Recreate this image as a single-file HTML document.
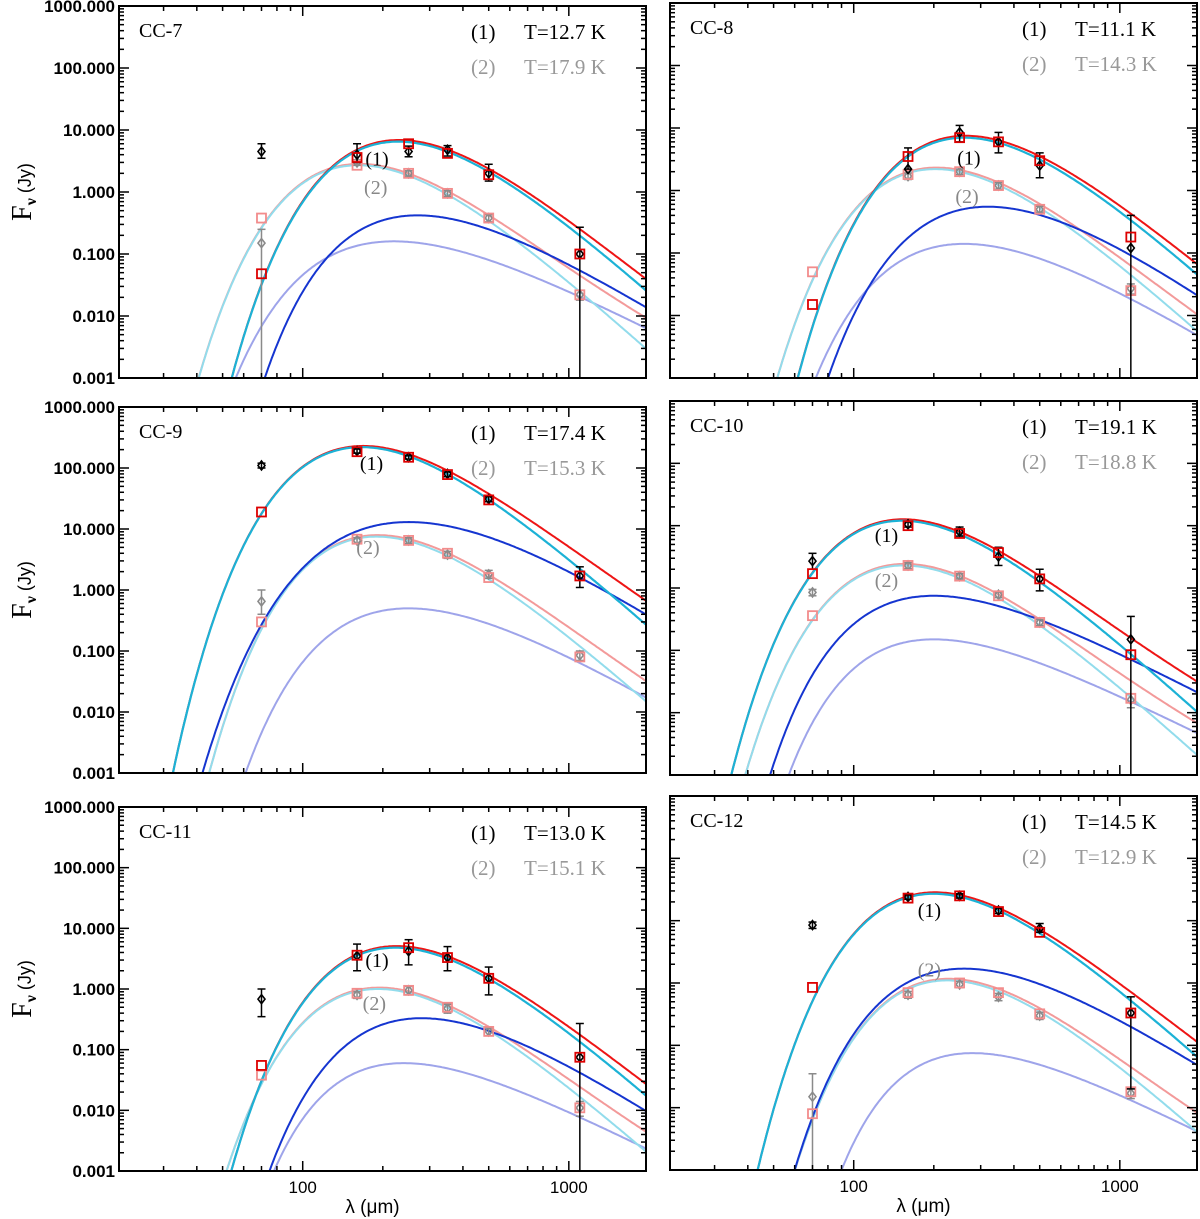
<!DOCTYPE html>
<html><head><meta charset="utf-8">
<style>
html,body{margin:0;padding:0;background:#fff;overflow:hidden;width:1200px;height:1219px;}
svg{display:block;overflow:hidden;}
</style></head>
<body>
<svg id="chart" xmlns="http://www.w3.org/2000/svg" width="1200" height="1219" viewBox="0 0 1200 1219"></svg>
<script>
// ---- data ----
const panelNames = ["CC-7","CC-8","CC-9","CC-10","CC-11","CC-12"];
const temp1Labels = ["T=12.7 K","T=11.1 K","T=17.4 K","T=19.1 K","T=13.0 K","T=14.5 K"];
const temp2Labels = ["T=17.9 K","T=14.3 K","T=15.3 K","T=18.8 K","T=15.1 K","T=12.9 K"];
const cyanT = [12.7,11.1,17.4,19.1,13.0,14.5];
const cyanPeak = [6.5,7,220,12,4.8,27];
const cyan2T = [17.9,14.3,15.3,18.8,15.1,12.9];
const cyan2Peak = [2.7,2.2,7.5,2.3,1.0,1.1];
const blueLam = [270,320,250,200,280,260];
const bluePeak = [0.42,0.55,13,0.75,0.33,1.7];
const blueStart = [72,80,42,48.5,75,60];
const blueAt2000 = [0.013,0.02,0.37,0.02,0.009,0.045];
const lavLam = [220,260,250,200,240,280];
const lavPeak = [0.16,0.14,0.5,0.15,0.06,0.075];
const lavStart = [56,72,61,57,78,90];
const lavAt2000 = [0.006,0.0045,0.016,0.0045,0.0022,0.004];
const wavelengths = [70,160,250,350,500,1100];
const blackFlux = [
 [4.5,4.0,4.5,4.8,2.0,0.1],
 [null,2.2,8.5,6,2.5,0.12],
 [110,190,150,80,31,1.7],
 [2.7,10.5,8,3.2,1.4,0.15],
 [0.68,3.5,4.2,3.3,1.5,0.075],
 [8.5,24,25,14.5,7.5,0.33]];
const blackLo = [
 [3.5,3,3.7,3.8,1.5,0.001],
 [null,2.2,6,4,1.6,0.001],
 [100,175,140,72,28,1.1],
 [2,9.5,6.8,2.3,0.9,0.001],
 [0.35,2,2.5,2,0.8,0.001],
 [7.5,22,23,13,6.5,0.02]];
const blackHi = [
 [6,6,5.5,5.6,2.8,0.27],
 [null,4.8,11,8.5,4,0.4],
 [120,205,160,86,34,2.4],
 [3.6,11.5,9.5,4.5,2,0.35],
 [1.0,5.5,6.5,5,2.3,0.27],
 [9.5,26,27,16,9,0.6]];
const redFlux = [
 [0.048,3.6,6.0,4.2,1.9,0.1],
 [0.015,3.5,7,6,3,0.18],
 [19,185,150,78,30,1.7],
 [1.7,10,7.5,3.7,1.4,0.085],
 [0.055,3.6,4.8,3.3,1.5,0.075],
 [0.85,23,25,14,6.5,0.33]];
const grayFlux = [
 [0.15,3.0,2.0,0.95,0.38,0.022],
 [null,1.7,2.0,1.2,0.5,0.027],
 [0.65,6.5,6.5,3.8,1.8,0.085],
 [0.85,2.3,1.55,0.78,0.28,0.016],
 [null,0.8,0.95,0.48,0.2,0.011],
 [0.015,0.65,0.95,0.6,0.3,0.017]];
const grayLo = [
 [0.001,2.7,1.8,0.85,0.33,0.018],
 [null,1.5,1.8,1.05,0.45,0.022],
 [0.4,5.8,5.8,3.3,1.55,0.07],
 [0.75,2.05,1.4,0.7,0.25,0.012],
 [null,0.7,0.8,0.4,0.17,0.008],
 [0.001,0.57,0.84,0.52,0.26,0.014]];
const grayHi = [
 [0.25,3.3,2.2,1.05,0.43,0.026],
 [null,1.9,2.2,1.35,0.56,0.032],
 [1.0,7.2,7.2,4.3,2.1,0.1],
 [0.95,2.55,1.7,0.86,0.31,0.02],
 [null,0.9,1.1,0.56,0.23,0.014],
 [0.035,0.73,1.06,0.68,0.34,0.02]];
const pinkFlux = [
 [0.38,2.7,2.0,0.95,0.38,0.022],
 [0.05,1.8,2.0,1.2,0.5,0.025],
 [0.3,6.8,6.5,4,1.6,0.08],
 [0.36,2.3,1.55,0.75,0.28,0.017],
 [0.038,0.85,0.95,0.5,0.2,0.011],
 [0.008,0.7,1.0,0.7,0.32,0.018]];
const yTickLabels = ["0.001","0.010","0.100","1.000","10.000","100.000","1000.000"];
const xTickLabels = ["100","1000"];
const label1Pos = [[172,2.7],[245,2.6],[164,93],[120,5.5],[172,2.3],[174,11.5]];
const label2Pos = [[170,0.93],[241,0.63],[159,3.9],[120,1.04],[168,0.45],[174,1.26]];

// ---- layout ----
const frames = [
 {x0:119,x1:646,y0:6,y1:378,left:true,bottom:false},
 {x0:670,x1:1197,y0:3,y1:378,left:false,bottom:false},
 {x0:119,x1:646,y0:407,y1:773,left:true,bottom:false},
 {x0:670,x1:1197,y0:401,y1:775,left:false,bottom:false},
 {x0:119,x1:646,y0:807,y1:1171,left:true,bottom:true},
 {x0:670,x1:1197,y0:796,y1:1170,left:false,bottom:true}];
const XMIN=Math.log10(20.4), XMAX=Math.log10(1950), YMIN=-3, YMAX=3;
const NS="http://www.w3.org/2000/svg";
const svg=document.getElementById('chart');
function mk(tag,attrs,parent){const e=document.createElementNS(NS,tag);for(const k in attrs)e.setAttribute(k,attrs[k]);(parent||svg).appendChild(e);return e;}

function greybody(lam,T,peak){
  const g=l=>{const x=14388/(l*T);return Math.pow(x,5)/(Math.exp(x)-1);};
  return peak*g(lam)/g(2898/T);
}
function solveShape(lp,peak,start,end){
  const u0=start/lp,u1=2000/lp,D=Math.log(peak/0.001),R=Math.log(end/peak);
  let best=null,bestErr=1e9;
  for(let m=0.2;m<=5;m+=0.01){
    const a=-Math.log(u0)+(1-Math.pow(u0,-m))/m;
    const s=-D/a; if(!(s>0))continue;
    const v=s*(-Math.log(u1)+(1-Math.pow(u1,-m))/m);
    const err=Math.abs(v-R); if(err<bestErr){bestErr=err;best={s:s,m:m};}
  }
  return best||{s:2,m:1.5};
}
function shapeFn(lp,peak,p){
  return lam=>{const u=lam/lp;return peak*Math.exp(-p.s*Math.log(u)+(p.s/p.m)*(1-Math.pow(u,-p.m)));};
}

frames.forEach((f,i)=>{
  const sx=l=>f.x0+(Math.log10(l)-XMIN)/(XMAX-XMIN)*(f.x1-f.x0);
  const sy=v=>f.y1-(Math.log10(v)-YMIN)/(YMAX-YMIN)*(f.y1-f.y0);
  const g=mk('g',{});
  
  
  const cid='clip'+i;
  const cp=mk('clipPath',{id:cid},g);
  mk('rect',{x:f.x0,y:f.y0,width:f.x1-f.x0,height:f.y1-f.y0},cp);
  const cg=mk('g',{'clip-path':'url(#'+cid+')'},g);
  
  
  function curve(fn,color,w,name){
    let d='';
    for(let k=0;k<=300;k++){
      const l=Math.pow(10,XMIN+(XMAX-XMIN)*k/300);
      let v=fn(l); if(!(v>1e-6))v=1e-6;
      d+=(k?'L':'M')+sx(l).toFixed(1)+','+sy(v).toFixed(1);
    }
    const p=mk('path',{d:d,fill:'none',stroke:color,'stroke-width':w},cg);
    
    
  }
  const c1=l=>greybody(l,cyanT[i],cyanPeak[i]);
  const b1=shapeFn(blueLam[i],bluePeak[i],solveShape(blueLam[i],bluePeak[i],blueStart[i],blueAt2000[i]));
  const c2=l=>greybody(l,cyan2T[i],cyan2Peak[i]);
  const b2=shapeFn(lavLam[i],lavPeak[i],solveShape(lavLam[i],lavPeak[i],lavStart[i],lavAt2000[i]));
  curve(b2,'#9ea4ea',2,'cold-component-2');
  curve(l=>c2(l)+b2(l),'#f39a9a',2,'total-fit-2');
  curve(c2,'#92dcec',2,'greybody-2');
  curve(b1,'#1535d0',2,'cold-component-1');
  curve(l=>c1(l)+b1(l),'#ee1515',2,'total-fit-1');
  curve(c1,'#1cb2d6',2.2,'greybody-1');

  function errbar(x,lo,hi,color,name){
    const e=mk('g',{stroke:color,'stroke-width':1.5},cg);
    
    
    mk('line',{x1:x,x2:x,y1:sy(lo),y2:sy(hi)},e);
    mk('line',{x1:x-4,x2:x+4,y1:sy(lo),y2:sy(lo)},e);
    mk('line',{x1:x-4,x2:x+4,y1:sy(hi),y2:sy(hi)},e);
  }
  function diamond(x,y,color,name){
    const p=mk('path',{d:`M${x},${y-4.5}L${x+3.5},${y}L${x},${y+4.5}L${x-3.5},${y}Z`,fill:'none',stroke:color,'stroke-width':1.6},cg);
    
    
  }
  function square(x,y,color,name){
    const p=mk('rect',{x:x-4.5,y:y-4.5,width:9,height:9,fill:'none',stroke:color,'stroke-width':1.8},cg);
    
    
  }
  wavelengths.forEach((lam,j)=>{
    const x=sx(lam);
    if(grayFlux[i][j]!=null){errbar(x,grayLo[i][j],grayHi[i][j],'#8a8a8a','gray-errorbar');diamond(x,sy(grayFlux[i][j]),'#8a8a8a','gray-point');}
    if(pinkFlux[i][j]!=null)square(x,sy(pinkFlux[i][j]),'#f28c8c','pink-point');
  });
  wavelengths.forEach((lam,j)=>{
    const x=sx(lam);
    if(blackFlux[i][j]!=null){errbar(x,blackLo[i][j],blackHi[i][j],'#000','black-errorbar');diamond(x,sy(blackFlux[i][j]),'#000','black-point');}
    if(redFlux[i][j]!=null)square(x,sy(redFlux[i][j]),'#dd0000','red-point');
  });

  const fr=mk('rect',{x:f.x0,y:f.y0,width:f.x1-f.x0,height:f.y1-f.y0,fill:'none',stroke:'#000','stroke-width':2},g);
  
  
  const tk=mk('g',{stroke:'#000','stroke-width':1.5},g);
  
  
  for(let d=YMIN;d<YMAX;d++){
    for(let m=1;m<10;m++){
      const y=sy(m*Math.pow(10,d)); const L=m==1?10:5;
      mk('line',{x1:f.x0,x2:f.x0+L,y1:y,y2:y},tk);
      mk('line',{x1:f.x1,x2:f.x1-L,y1:y,y2:y},tk);
    }
  }
  for(let d=1;d<=3;d++){
    for(let m=1;m<10;m++){
      const v=m*Math.pow(10,d); if(Math.log10(v)<XMIN||Math.log10(v)>XMAX)continue;
      const x=sx(v); const L=m==1?10:5;
      mk('line',{x1:x,x2:x,y1:f.y1,y2:f.y1-L},tk);
      mk('line',{x1:x,x2:x,y1:f.y0,y2:f.y0+L},tk);
    }
  }
  if(f.left){
    yTickLabels.forEach((t,k)=>{
      const tx=mk('text',{x:f.x0-4,y:sy(Math.pow(10,YMIN+k))+6,'text-anchor':'end','font-family':'Liberation Sans, sans-serif','font-size':17,'font-weight':'bold'},g);
      tx.textContent=t;
      
      
    });
    const cy=(f.y0+f.y1)/2;
    const yl=mk('text',{x:0,y:0,transform:`translate(31,${cy}) rotate(-90)`,'text-anchor':'middle','font-family':'Liberation Serif, serif','font-size':28},g);
    
    
    const t1=mk('tspan',{},yl);t1.textContent='F';
    const t2=mk('tspan',{'font-size':16,dy:5,'font-weight':'bold'},yl);t2.textContent='ν';
    const t3=mk('tspan',{'font-size':18,dy:-5,'font-family':'Liberation Sans, sans-serif'},yl);t3.textContent=' (Jy)';
  }
  if(f.bottom){
    xTickLabels.forEach((t,k)=>{
      const tx=mk('text',{x:sx(Math.pow(10,2+k)),y:f.y1+22,'text-anchor':'middle','font-family':'Liberation Sans, sans-serif','font-size':17},g);
      tx.textContent=t;
      
      
    });
    const xl=mk('text',{x:(f.x0+f.x1)/2-10,y:f.y1+42,'text-anchor':'middle','font-family':'Liberation Sans, sans-serif','font-size':19},g);
    xl.textContent='λ (μm)';
    
    
  }
  const serif='Liberation Serif, serif';
  const nm=mk('text',{x:f.x0+20,y:f.y0+31,'font-family':serif,'font-size':20},g);
  nm.textContent=panelNames[i];
  
  
  [[temp1Labels,'#000',33],[temp2Labels,'#999',68]].forEach(([arr,col,dy],k)=>{
    const a=mk('text',{x:f.x1-175,y:f.y0+dy,'font-family':serif,'font-size':21,fill:col},g);
    a.textContent='('+(k+1)+')';
    
    
    const b=mk('text',{x:f.x1-122,y:f.y0+dy,'font-family':serif,'font-size':21,fill:col},g);
    b.textContent=arr[i];
    
    
  });
  const l1=mk('text',{x:sx(label1Pos[i][0]),y:sy(label1Pos[i][1]),'font-family':serif,'font-size':20,fill:'#000'},g);
  l1.textContent='(1)';
  
  
  const l2=mk('text',{x:sx(label2Pos[i][0]),y:sy(label2Pos[i][1]),'font-family':serif,'font-size':20,fill:'#888'},g);
  l2.textContent='(2)';
  
  
});
</script>
</body></html>
